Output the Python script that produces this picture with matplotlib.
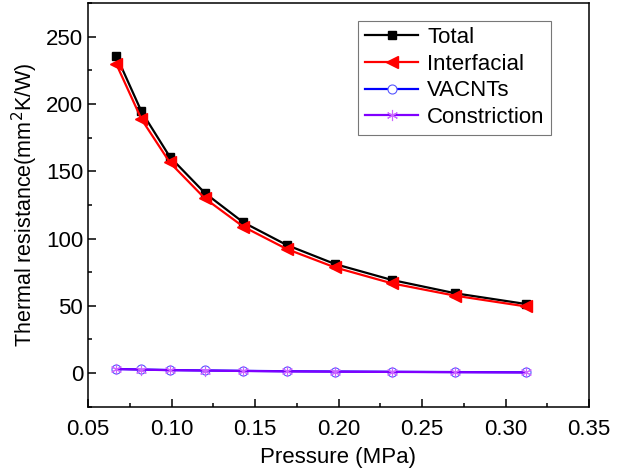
import matplotlib
matplotlib.use("Agg")
import matplotlib.pyplot as plt
from matplotlib.ticker import MultipleLocator

plt.rcParams['font.family'] = ['Liberation Sans', 'DejaVu Sans']

pressure = [0.067, 0.082, 0.099, 0.120, 0.143, 0.169, 0.198, 0.232, 0.270, 0.312]
total = [235.7, 194.4, 160.7, 133.8, 112.0, 95.2, 81.0, 69.2, 59.3, 51.4]
interfacial = [229.5, 188.7, 156.5, 129.8, 108.8, 92.2, 78.5, 66.7, 57.5, 49.6]
vacnts = [3.1, 2.7, 2.3, 2.0, 1.7, 1.4, 1.2, 1.0, 0.8, 0.6]
constriction = [3.0, 2.6, 2.2, 1.9, 1.6, 1.3, 1.1, 0.9, 0.7, 0.5]

fig = plt.figure(figsize=(6.25, 4.73), dpi=100)
ax = fig.add_axes([0.1408, 0.14, 0.8016, 0.8537])

ax.plot(pressure, total, color='black', lw=1.6, marker='s', ms=6, label='Total')
ax.plot(pressure, interfacial, color='red', lw=1.6, marker='<', ms=8, label='Interfacial')
ax.plot(pressure, vacnts, color='blue', lw=1.6, marker='o', ms=6.5,
        mfc='white', mec='#5555ff', mew=0.8, label='VACNTs')
ax.plot(pressure, constriction, color='#8000ff', lw=1.6, marker=(6, 2, 0), ms=8,
        mec='#cc66ff', mew=0.8, label='Constriction')

ax.set_xlim(0.05, 0.35)
ax.set_ylim(-25, 275)
ax.xaxis.set_major_locator(MultipleLocator(0.05))
ax.xaxis.set_minor_locator(MultipleLocator(0.025))
ax.yaxis.set_major_locator(MultipleLocator(50))
ax.yaxis.set_minor_locator(MultipleLocator(25))
ax.xaxis.set_major_formatter(matplotlib.ticker.FormatStrFormatter('%.2f'))

ax.tick_params(which='both', direction='in', top=False, right=False, width=1.1, labelsize=16)
ax.tick_params(which='major', length=5.5)
ax.tick_params(which='minor', length=3)
ax.tick_params(axis='x', which='major', pad=9)
for s in ax.spines.values():
    s.set_linewidth(1.1)

ax.set_xlabel('Pressure (MPa)', fontsize=16, labelpad=5)
ax.set_ylabel('Thermal resistance(mm$^2$K/W)', fontsize=15.5, labelpad=4)

leg = ax.legend(loc='upper right', bbox_to_anchor=(0.947, 0.984), fontsize=16,
                frameon=True, fancybox=False, edgecolor='#777777', framealpha=1,
                handlelength=2.4, labelspacing=0.25, borderpad=0.3, handletextpad=0.4)
leg.get_frame().set_linewidth(0.8)

fig.savefig('out.png', dpi=100)
